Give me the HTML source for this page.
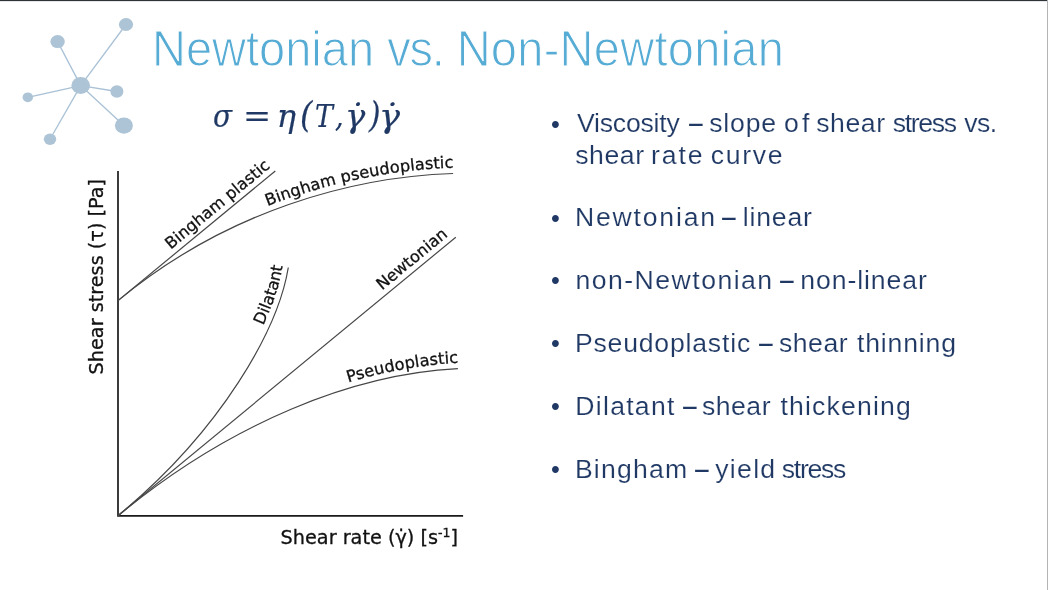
<!DOCTYPE html>
<html lang="en">
<head>
<meta charset="utf-8">
<title>Newtonian vs. Non-Newtonian</title>
<style>
html,body{margin:0;padding:0;background:#fff;}
body{width:1048px;height:590px;position:relative;overflow:hidden;font-family:"Liberation Sans",sans-serif;}
#top{position:absolute;left:0;top:0;width:1048px;height:1px;background:#2f3337;}
#top2{position:absolute;left:0;top:1px;width:1047px;height:1px;background:#e4e6e7;}
#right{position:absolute;left:1047px;top:0;width:1px;height:590px;background:#b4b4b4;}
#title{position:absolute;left:151.7px;top:21.1px;margin:0;font-weight:normal;font-size:50.2px;line-height:56px;color:#56acd4;white-space:nowrap;letter-spacing:0;-webkit-text-stroke:1.1px #fff;transform:scaleX(0.9365);transform-origin:0 0;}
#formula{position:absolute;left:0;top:96.2px;font-stretch:normal;margin:0;font-family:"DejaVu Serif","Liberation Serif",serif;font-style:italic;font-size:32px;line-height:40px;color:#1f3864;white-space:nowrap;}
#formula span{position:absolute;top:0;transform-origin:0 0;-webkit-text-stroke:0.2px #1f3864;}
ul{position:absolute;left:0;top:0;margin:0;padding:0;list-style:none;color:#1f3864;font-size:26.6px;line-height:31.4px;}
li{position:absolute;left:0;white-space:nowrap;}
li span{position:absolute;top:0;-webkit-text-stroke:0.15px #fff;}
li b{position:absolute;left:550.9px;top:0.3px;font-size:25.2px;font-weight:normal;}
svg{position:absolute;left:0;top:0;}
</style>
</head>
<body>
<div id="top"></div><div id="top2"></div><div id="right"></div>
<svg id="logo" width="150" height="150" viewBox="0 0 150 150">
 <g stroke="#a9c1d6" stroke-width="1.3" fill="none">
  <line x1="80.7" y1="85.6" x2="126" y2="24.5"/>
  <line x1="80.7" y1="85.6" x2="57.6" y2="41.6"/>
  <line x1="80.7" y1="85.6" x2="116.9" y2="91.5"/>
  <line x1="80.7" y1="85.6" x2="27.8" y2="97.3"/>
  <line x1="80.7" y1="85.6" x2="123.9" y2="125.6"/>
  <line x1="80.7" y1="85.6" x2="50" y2="139.2"/>
 </g>
 <g fill="#adc4d6">
  <ellipse cx="126" cy="24.5" rx="7.1" ry="6.5"/>
  <ellipse cx="57.6" cy="41.6" rx="7.2" ry="6.5"/>
  <ellipse cx="80.7" cy="85.6" rx="9.3" ry="8.5"/>
  <ellipse cx="116.9" cy="91.5" rx="6.5" ry="6.2"/>
  <ellipse cx="27.8" cy="97.3" rx="5.2" ry="4.9"/>
  <ellipse cx="123.9" cy="125.6" rx="9" ry="8.1"/>
  <ellipse cx="50" cy="139.2" rx="6.2" ry="5.7"/>
 </g>
</svg>
<h1 id="title">Newtonian <span style="letter-spacing:-1.3px">vs.</span> <span style="letter-spacing:0.29px">Non-Newtonian</span></h1>
<p id="formula"><span style="left:213.2px;transform:scaleX(0.873)">σ</span><span style="left:242.8px;transform:scaleX(1.05)">=</span><span style="left:276.7px">η</span><span style="left:300.1px;transform:scaleY(1.12);transform-origin:0 29px">(</span><span style="left:314.7px;transform:scaleX(0.84)">T</span><span style="left:334.5px;transform:scaleX(0.85)">,</span><span style="left:345.3px;transform:scaleX(1.06)">γ̇</span><span style="left:368.9px;transform:scale(0.92,1.12);transform-origin:0 29px">)</span><span style="left:379px;transform:scaleX(1.1)">γ̇</span></p>
<svg id="chart" width="1048" height="590" viewBox="0 0 1048 590" font-family="'DejaVu Sans','Liberation Sans',sans-serif">
 <g fill="none" stroke="#1a1a1a" stroke-width="1.7">
  <path d="M118 171 V515.9 H463.1"/>
 </g>
 <g fill="none" stroke="#464646" stroke-width="1.2">
  <path id="c-bp" d="M118 300.6 L275.3 171"/>
  <path id="c-bpp" d="M118 300.6 C227 210.4 352.6 176.8 453.1 173.5"/>
  <path id="c-n" d="M118 515.7 L455.8 237.2"/>
  <path id="c-pp" d="M118 515.7 C230.5 422.6 353.7 373.9 457.9 368.7"/>
  <path id="c-d" d="M118 515.7 C222.4 429.3 278.3 328.6 288.3 267.5"/>
 </g>
 <g fill="#111" stroke="#111" stroke-width="0.3" font-size="16.15">
  <text dy="-5.8"><textPath href="#c-bp" startOffset="73">Bingham plastic</textPath></text>
  <text dy="-5.8"><textPath href="#c-bpp" startOffset="176.6">Bingham pseudoplastic</textPath></text>
  <text dy="-5.8"><textPath href="#c-n" startOffset="346.8">Newtonian</textPath></text>
  <text dy="-5.8"><textPath href="#c-pp" startOffset="266.3">Pseudoplastic</textPath></text>
  <text dy="-5.8"><textPath href="#c-d" startOffset="242.5">Dilatant</textPath></text>
 </g>
 <g fill="#111" stroke="#111" stroke-width="0.3" font-size="19.25">
  <text x="280.6" y="543.8">Shear rate (γ̇) [s<tspan font-size="12.5" dy="-7">-1</tspan><tspan dy="7">]</tspan></text>
  <text transform="translate(103 374.4) rotate(-90)">Shear stress (τ) [Pa]</text>
 </g>
</svg>
<ul>
 <li style="top:108.3px"><b>•</b> <span style="left:577.0px;letter-spacing:-0.22px">Viscosity</span> <span style="left:688.6px;transform:scale(0.93,1.3);transform-origin:0 16.3px">–</span> <span style="left:709.3px;letter-spacing:0.78px">slope</span> <span style="left:784.0px;letter-spacing:3.30px">of</span> <span style="left:816.2px;letter-spacing:0.57px">shear</span> <span style="left:892.8px;letter-spacing:-1.36px">stress</span> <span style="left:964.3px;letter-spacing:-0.55px">vs.</span> <br> <span style="top:31.4px;left:575.2px;letter-spacing:0.57px">shear</span> <span style="top:31.4px;left:650.9px;letter-spacing:1.97px">rate</span> <span style="top:31.4px;left:710.7px;letter-spacing:1.72px">curve</span></li>
 <li style="top:202.4px"><b>•</b> <span style="left:574.9px;letter-spacing:1.81px">Newtonian</span> <span style="left:721.8px;transform:scale(0.93,1.3);transform-origin:0 16.3px">–</span> <span style="left:742.7px;letter-spacing:0.84px">linear</span></li>
 <li style="top:265.2px"><b>•</b> <span style="left:575.4px;letter-spacing:1.49px">non-Newtonian</span> <span style="left:780.1px;transform:scale(0.93,1.3);transform-origin:0 16.3px">–</span> <span style="left:800.3px;letter-spacing:0.92px">non-linear</span></li>
 <li style="top:328.1px"><b>•</b> <span style="left:574.9px;letter-spacing:0.81px">Pseudoplastic</span> <span style="left:758.9px;transform:scale(0.93,1.3);transform-origin:0 16.3px">–</span> <span style="left:779.0px;letter-spacing:0.50px">shear</span> <span style="left:857.0px;letter-spacing:0.83px">thinning</span></li>
 <li style="top:391.0px"><b>•</b> <span style="left:575.3px;letter-spacing:1.27px">Dilatant</span> <span style="left:682.9px;transform:scale(0.93,1.3);transform-origin:0 16.3px">–</span> <span style="left:701.9px;letter-spacing:0.53px">shear</span> <span style="left:780.4px;letter-spacing:1.18px">thickening</span></li>
 <li style="top:453.9px"><b>•</b> <span style="left:574.9px;letter-spacing:1.22px">Bingham</span> <span style="left:694.5px;transform:scale(0.93,1.3);transform-origin:0 16.3px">–</span> <span style="left:715.3px;letter-spacing:1.28px">yield</span> <span style="left:781.8px;letter-spacing:-1.30px">stress</span></li>
</ul>
</body>
</html>
